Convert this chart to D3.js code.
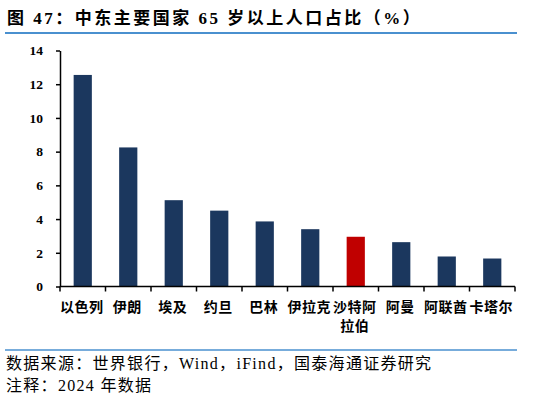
<!DOCTYPE html>
<html><head><meta charset="utf-8">
<script src="https://cdn.jsdelivr.net/npm/d3@7"></script>
<style>
body{margin:0;background:#fff;}
svg{display:block;}
</style></head>
<body>
<svg id="c" width="538" height="400"></svg>
<script>
const categories = ["以色列","伊朗","埃及","约旦","巴林","伊拉克","沙特阿拉伯","阿曼","阿联酋","卡塔尔"];
const labelLines = [["以色列"],["伊朗"],["埃及"],["约旦"],["巴林"],["伊拉克"],["沙特阿","拉伯"],["阿曼"],["阿联酋"],["卡塔尔"]];
const values = [12.55, 8.25, 5.12, 4.5, 3.86, 3.4, 2.95, 2.63, 1.78, 1.66];
const highlight = ["沙特阿拉伯"];
const yTicks = [0,2,4,6,8,10,12,14];

const svg = d3.select("#c");
const serifCJK = "'Liberation Serif','Times New Roman','Noto Sans CJK SC',serif";

const x = d3.scaleBand().domain(categories).range([60,515]).paddingInner(0.6).paddingOuter(0.3);
const y = d3.scaleLinear().domain([0,14]).range([286.5,50.5]);

// title
svg.append("text").attr("x",7).attr("y",24)
  .attr("font-family",serifCJK).attr("font-weight","bold").attr("font-size",17)
  .attr("letter-spacing","2.5px").attr("fill","#000")
  .text("图 47：中东主要国家 65 岁以上人口占比（%）");
svg.append("line").attr("x1",5).attr("x2",517).attr("y1",33).attr("y2",33)
  .attr("stroke","#4a90cf").attr("stroke-width",2);

// bars
svg.append("g").selectAll("rect").data(values).join("rect")
  .attr("x",(d,i)=>x(categories[i]))
  .attr("width",x.bandwidth())
  .attr("y",d=>y(d))
  .attr("height",d=>y(0)-y(d))
  .attr("fill",(d,i)=>highlight.includes(categories[i])?"#c00000":"#1b375e");

// y axis
const ya = svg.append("g").attr("transform","translate(60,0)")
  .call(d3.axisLeft(y).tickValues(yTicks).tickSize(4).tickPadding(13).tickSizeOuter(0));
ya.attr("font-family",null).attr("font-size",null);
ya.select(".domain").attr("stroke","#000").attr("stroke-width",1.5);
ya.selectAll(".tick line").attr("stroke","#000").attr("stroke-width",1.5);
ya.selectAll(".tick text")
  .style("font-family",serifCJK).style("font-weight","bold")
  .style("font-size","13.5px").attr("fill","#000");

// x axis
const xa = svg.append("g").attr("transform",`translate(0,${y(0)})`);
xa.append("line").attr("x1",60).attr("x2",515).attr("stroke","#000").attr("stroke-width",1.5);
const bounds = categories.map(c=>x(c)-x.step()*x.paddingInner()/2).concat([515]);
xa.selectAll("line.tk").data(bounds).join("line").attr("class","tk")
  .attr("x1",d=>d).attr("x2",d=>d).attr("y1",0).attr("y2",5)
  .attr("stroke","#000").attr("stroke-width",1.5);
const lbl = xa.selectAll("text.lb").data(labelLines).join("text").attr("class","lb")
  .attr("x",(d,i)=>x(categories[i])+x.bandwidth()/2-1)
  .attr("text-anchor","middle")
  .attr("font-family",serifCJK).attr("font-weight","bold").attr("font-size",14)
  .attr("letter-spacing","0.5px").attr("fill","#000");
lbl.each(function(lines){
  d3.select(this).selectAll("tspan").data(lines).join("tspan")
    .attr("x",d3.select(this).attr("x"))
    .attr("y",(d,j)=>25+j*19)
    .text(d=>d);
});

// footer
svg.append("line").attr("x1",5).attr("x2",517).attr("y1",350).attr("y2",350)
  .attr("stroke","#4a90cf").attr("stroke-width",1.5);
svg.append("text").attr("x",6).attr("y",369)
  .attr("font-family",serifCJK).attr("font-size",16).attr("letter-spacing","1.3px").attr("fill","#000")
  .text("数据来源：世界银行，Wind，iFind，国泰海通证券研究");
svg.append("text").attr("x",6).attr("y",391)
  .attr("font-family",serifCJK).attr("font-size",16).attr("letter-spacing","1.3px").attr("fill","#000")
  .text("注释：2024 年数据");
</script>
</body></html>
